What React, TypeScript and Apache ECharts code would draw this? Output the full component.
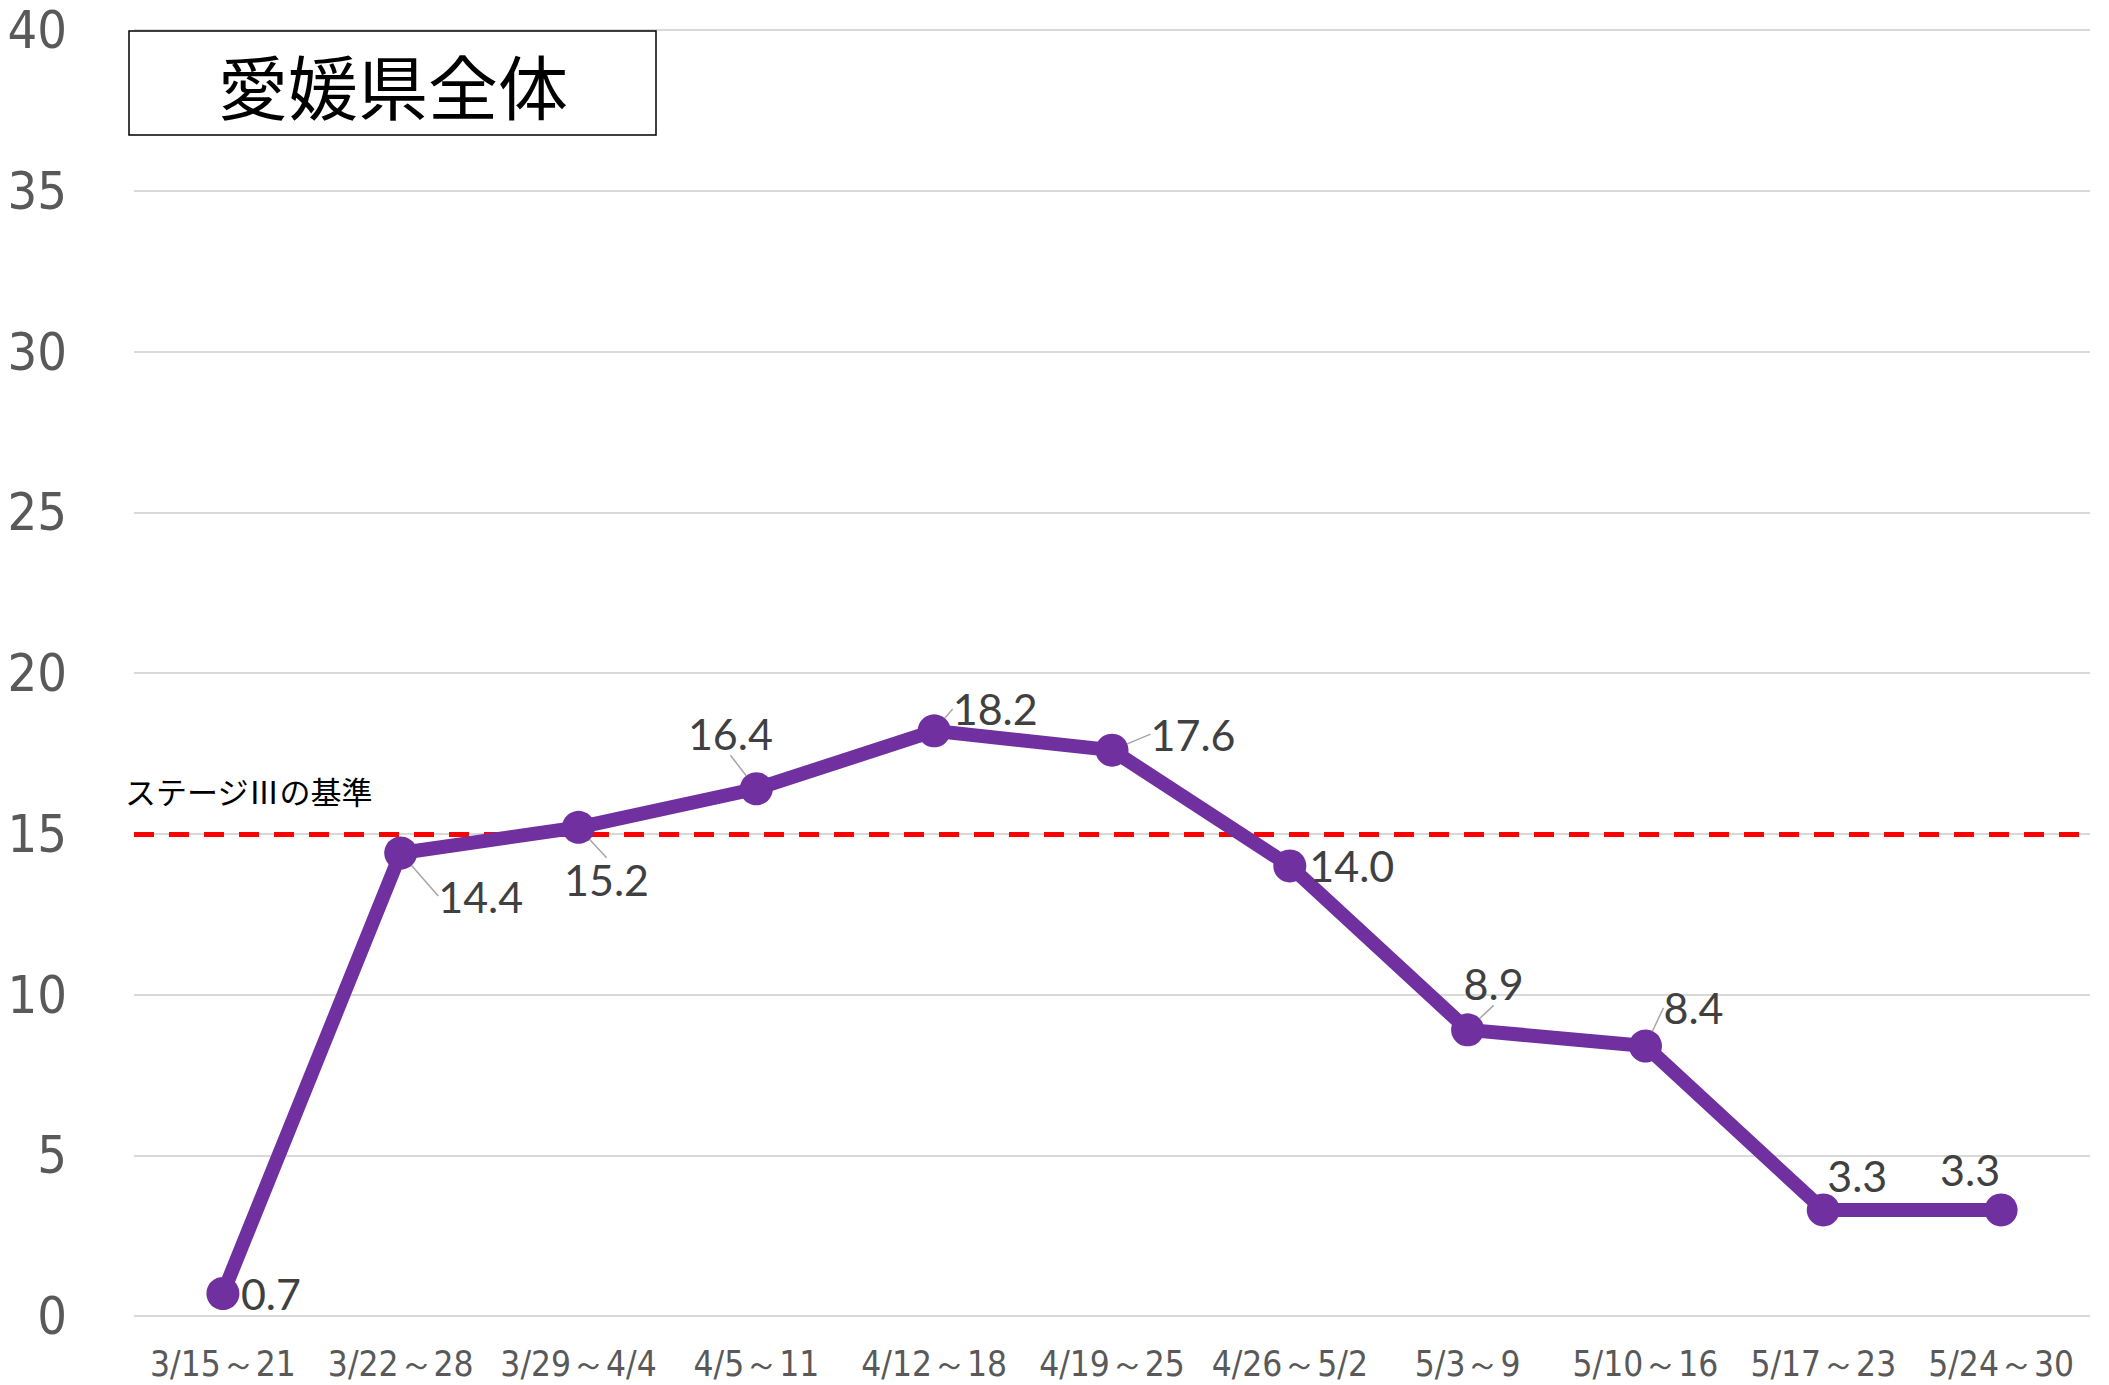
import React, { useEffect, useRef } from "react";
import * as echarts from "echarts";

const categories = ["3/15～21", "3/22～28", "3/29～4/4", "4/5～11", "4/12～18", "4/19～25", "4/26～5/2", "5/3～9", "5/10～16", "5/17～23", "5/24～30"];
const values = [0.7, 14.4, 15.2, 16.4, 18.2, 17.6, 14.0, 8.9, 8.4, 3.3, 3.3];
const stageThreshold = 15;
const thresholdLabel = "ステージⅢの基準";
const titleText = "愛媛県全体";
const yMin = 0;
const yMax = 40;
const yInterval = 5;

// label center offsets (px) relative to each point
const labelOffsets: [number, number][] = [
  [48, 0], [80, 43], [28, 52], [-26, -55], [61, -22], [81, -16], [62, 0], [26, -46], [48, -38], [34, -34], [-31, -40],
];
const showGuide = [false, true, true, true, true, true, false, true, true, false, false];

export default function App() {
  const ref = useRef<HTMLDivElement>(null);
  useEffect(() => {
    if (!ref.current) return;
    const chart = echarts.init(ref.current, null, { renderer: "svg" });
    chart.setOption({
      animation: false,
      backgroundColor: "#ffffff",
      grid: { left: 134, right: 19, top: 30, bottom: 69, containLabel: false },
      xAxis: {
        type: "category",
        data: categories,
        boundaryGap: true,
        axisLine: { show: false },
        axisTick: { show: false },
        axisLabel: {
          color: "#595959",
          fontSize: 35,
          fontFamily: "'Liberation Sans Narrow', 'DejaVu Sans Condensed', sans-serif",
          margin: 30,
          interval: 0,
        },
      },
      yAxis: {
        type: "value",
        min: yMin,
        max: yMax,
        interval: yInterval,
        axisLine: { show: false },
        axisTick: { show: false },
        splitLine: { lineStyle: { color: "#d9d9d9", width: 2 } },
        axisLabel: {
          color: "#595959",
          fontSize: 52,
          fontFamily: "'Liberation Sans Narrow', 'DejaVu Sans Condensed', sans-serif",
          margin: 67,
        },
      },
      graphic: [
        {
          type: "rect",
          shape: { x: 129, y: 31, width: 527, height: 104 },
          style: { fill: "#ffffff", stroke: "#000000", lineWidth: 1.5 },
          z: 10,
        },
        {
          type: "text",
          x: 393,
          y: 84,
          style: {
            text: titleText,
            fill: "#000000",
            font: "70px 'Noto Sans CJK JP', sans-serif",
            textAlign: "center",
            textVerticalAlign: "middle",
          },
          z: 11,
        },
        {
          type: "text",
          x: 125,
          y: 790,
          style: {
            text: thresholdLabel,
            fill: "#000000",
            font: "31px 'Noto Sans CJK JP', sans-serif",
            textAlign: "left",
            textVerticalAlign: "middle",
          },
          z: 11,
        },
      ],
      series: [
        {
          type: "line",
          data: values.map((v, i) => ({
            value: v,
            labelLine: { show: showGuide[i] },
          })),
          symbol: "circle",
          symbolSize: 33,
          lineStyle: { color: "#7030A0", width: 14 },
          itemStyle: { color: "#7030A0" },
          z: 3,
          label: {
            show: true,
            position: "inside",
            align: "center",
            verticalAlign: "middle",
            color: "#404040",
            fontSize: 43,
            fontFamily: "Lato, 'Noto Sans', sans-serif",
            formatter: (p: any) => Number(p.value).toFixed(1),
          },
          labelLayout: (p: any) => {
            const o = labelOffsets[p.dataIndex] || [0, 0];
            return { dx: o[0], dy: o[1] };
          },
          labelLine: {
            show: true,
            lineStyle: { color: "#a6a6a6", width: 1.5 },
          },
          markLine: {
            silent: true,
            symbol: "none",
            label: { show: false },
            lineStyle: { color: "#ff0000", width: 5, type: [20, 15] },
            data: [{ yAxis: stageThreshold }],
            z: 2,
          },
        },
      ],
    });
    return () => chart.dispose();
  }, []);
  return (
    <div
      ref={ref}
      style={{ position: "absolute", left: 0, top: 0, width: 2109, height: 1385 }}
    />
  );
}
